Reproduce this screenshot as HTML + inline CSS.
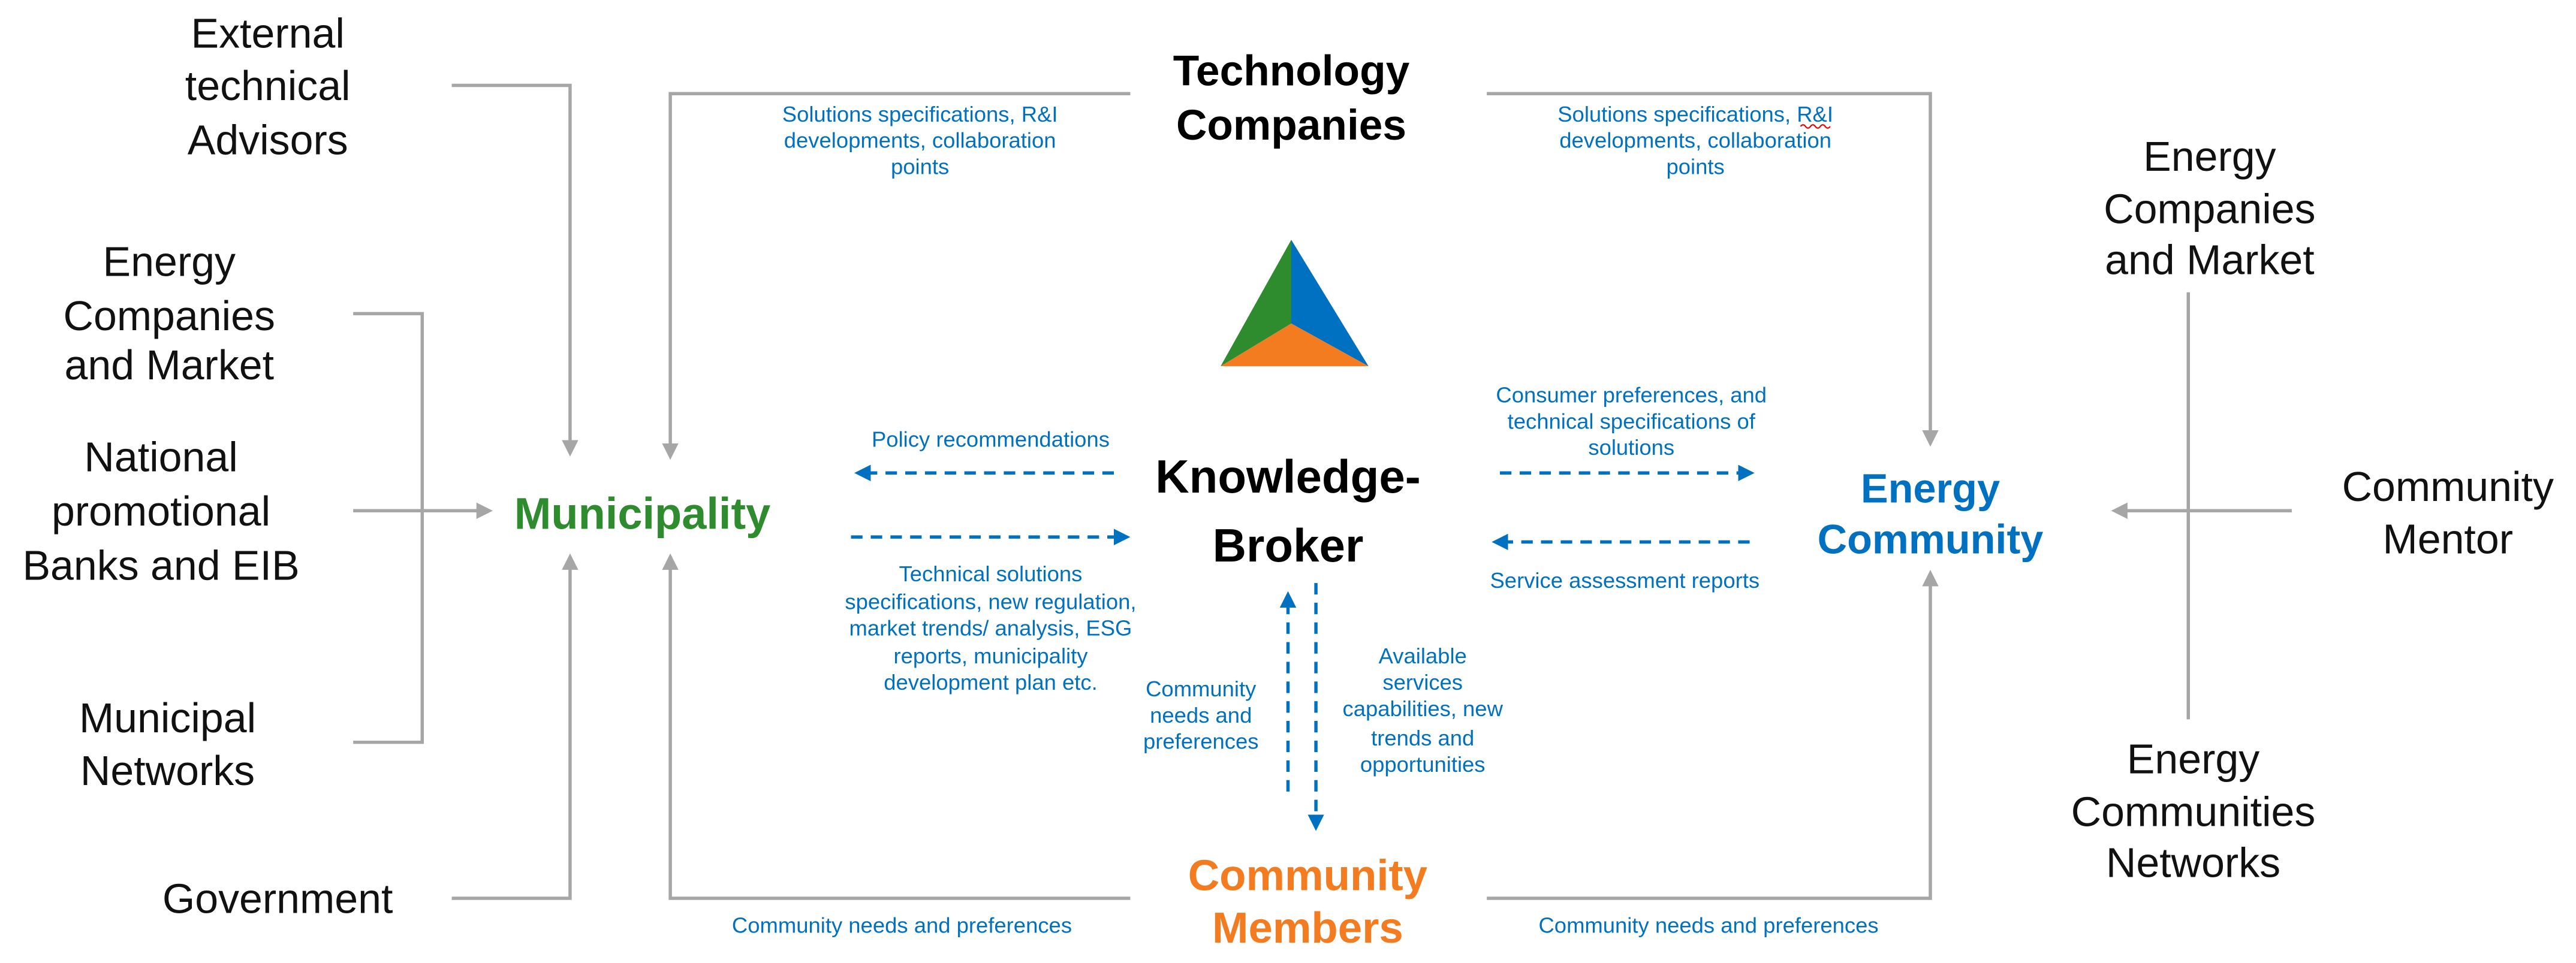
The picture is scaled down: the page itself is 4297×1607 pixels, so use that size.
<!DOCTYPE html>
<html><head><meta charset="utf-8"><style>
html,body{margin:0;padding:0;background:#fff;}
svg{display:block;}
text{font-family:"Liberation Sans",Arial,sans-serif;text-anchor:middle;}
.lbl{font-size:25.5px;fill:#111;}
.sm{font-size:13.3px;fill:#0070c0;}
.g{stroke:#a6a6a6;stroke-width:2;fill:none;}
.d{stroke:#0070c0;stroke-width:2;fill:none;stroke-dasharray:7,5;}
</style></head><body>
<svg width="4297" height="1607" viewBox="0 0 1568 586.4" xmlns="http://www.w3.org/2000/svg">
<defs>
<marker id="ag" markerWidth="10" markerHeight="10" refX="8" refY="5" orient="auto" markerUnits="userSpaceOnUse"><path d="M0,0 L10,5 L0,10 Z" fill="#a6a6a6"/></marker>
<marker id="ab" markerWidth="10" markerHeight="10" refX="8" refY="5" orient="auto" markerUnits="userSpaceOnUse"><path d="M0,0 L10,5 L0,10 Z" fill="#0070c0"/></marker>
</defs>
<rect width="1568" height="587" fill="#fff"/>

<!-- left labels -->
<text class="lbl" x="163" y="29">External</text>
<text class="lbl" x="163" y="61">technical</text>
<text class="lbl" x="163" y="94">Advisors</text>
<text class="lbl" x="103" y="168">Energy</text>
<text class="lbl" x="103" y="201">Companies</text>
<text class="lbl" x="103" y="231">and Market</text>
<text class="lbl" x="98" y="287">National</text>
<text class="lbl" x="98" y="320">promotional</text>
<text class="lbl" x="98" y="353">Banks and EIB</text>
<text class="lbl" x="102" y="446">Municipal</text>
<text class="lbl" x="102" y="478">Networks</text>
<text class="lbl" x="169" y="556">Government</text>

<!-- right labels -->
<text class="lbl" x="1345" y="104">Energy</text>
<text class="lbl" x="1345" y="136">Companies</text>
<text class="lbl" x="1345" y="167">and Market</text>
<text class="lbl" x="1490" y="305">Community</text>
<text class="lbl" x="1490" y="337">Mentor</text>
<text class="lbl" x="1335" y="471">Energy</text>
<text class="lbl" x="1335" y="503">Communities</text>
<text class="lbl" x="1335" y="534">Networks</text>

<!-- gray connectors -->
<path class="g" d="M275,52 H347 V276" marker-end="url(#ag)"/>
<path class="g" d="M215,191 H257 V452 H215"/>
<path class="g" d="M215,311 H298" marker-end="url(#ag)"/>
<path class="g" d="M275,547 H347 V339" marker-end="url(#ag)"/>
<path class="g" d="M688,57 H408 V278" marker-end="url(#ag)"/>
<path class="g" d="M688,547 H408 V339" marker-end="url(#ag)"/>
<path class="g" d="M905,57 H1175 V270" marker-end="url(#ag)"/>
<path class="g" d="M905,547 H1175 V349" marker-end="url(#ag)"/>
<path class="g" d="M1332,178 V438"/>
<path class="g" d="M1395,311 H1287" marker-end="url(#ag)"/>

<!-- main nodes -->
<text x="391" y="322" style="font-size:27px;font-weight:bold;fill:#2e8b2e">Municipality</text>
<text x="786" y="52" style="font-size:26px;font-weight:bold;fill:#000">Technology</text>
<text x="786" y="85" style="font-size:26px;font-weight:bold;fill:#000">Companies</text>
<text x="784" y="300" style="font-size:28.5px;font-weight:bold;fill:#000">Knowledge-</text>
<text x="784" y="342" style="font-size:28.5px;font-weight:bold;fill:#000">Broker</text>
<text x="1175" y="306" style="font-size:25px;font-weight:bold;fill:#0070c0">Energy</text>
<text x="1175" y="337" style="font-size:25px;font-weight:bold;fill:#0070c0">Community</text>
<text x="796" y="542" style="font-size:26.5px;font-weight:bold;fill:#f47c20">Community</text>
<text x="796" y="574" style="font-size:26.5px;font-weight:bold;fill:#f47c20">Members</text>

<!-- logo -->
<polygon points="786,146 743,223 786,197" fill="#2e8b2e"/>
<polygon points="786,146 833,223 786,197" fill="#0070c0"/>
<polygon points="743,223 833,223 786,197" fill="#f47c20"/>

<!-- blue small texts -->
<text class="sm" x="560" y="74">Solutions specifications, R&amp;I</text>
<text class="sm" x="560" y="90">developments, collaboration</text>
<text class="sm" x="560" y="106">points</text>
<text class="sm" x="1032" y="74">Solutions specifications, R&amp;I</text>
<text class="sm" x="1032" y="90">developments, collaboration</text>
<text class="sm" x="1032" y="106">points</text>
<path d="M1096,77 q1.5,-2 3,0 t3,0 t3,0 t3,0 t3,0 t3,0" stroke="#e00" stroke-width="0.8" fill="none"/>

<text class="sm" x="603" y="272">Policy recommendations</text>
<path class="d" d="M678,288 H522" marker-end="url(#ab)"/>
<path class="d" d="M518,327 H686" marker-end="url(#ab)"/>
<text class="sm" x="603" y="354">Technical solutions</text>
<text class="sm" x="603" y="371">specifications, new regulation,</text>
<text class="sm" x="603" y="387">market trends/ analysis, ESG</text>
<text class="sm" x="603" y="404">reports, municipality</text>
<text class="sm" x="603" y="420">development plan etc.</text>

<text class="sm" x="993" y="245">Consumer preferences, and</text>
<text class="sm" x="993" y="261">technical specifications of</text>
<text class="sm" x="993" y="277">solutions</text>
<path class="d" d="M913,288 H1066" marker-end="url(#ab)"/>
<path class="d" d="M1065,330 H910" marker-end="url(#ab)"/>
<text class="sm" x="989" y="358">Service assessment reports</text>

<path class="d" d="M784,482 V362" marker-end="url(#ab)"/>
<path class="d" d="M801,355 V504" marker-end="url(#ab)"/>
<text class="sm" x="731" y="424">Community</text>
<text class="sm" x="731" y="440">needs and</text>
<text class="sm" x="731" y="456">preferences</text>
<text class="sm" x="866" y="404">Available</text>
<text class="sm" x="866" y="420">services</text>
<text class="sm" x="866" y="436">capabilities, new</text>
<text class="sm" x="866" y="454">trends and</text>
<text class="sm" x="866" y="470">opportunities</text>

<text class="sm" x="549" y="568">Community needs and preferences</text>
<text class="sm" x="1040" y="568">Community needs and preferences</text>
</svg>
</body></html>
